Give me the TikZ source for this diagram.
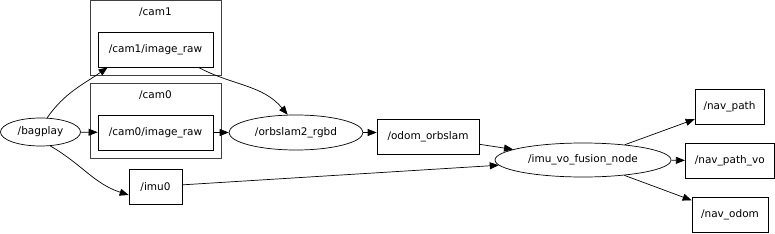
\documentclass[tikz,border=0pt]{standalone}
\usepackage{fontspec}
\setmainfont{DejaVu Sans}
\usetikzlibrary{arrows.meta,shapes.geometric}
\begin{document}
\begin{tikzpicture}[x=1pt,y=-1pt,
  every node/.style={font=\fontsize{10.5}{12}\selectfont, inner sep=0pt},
  topic/.style={draw=black, line width=0.7pt, rectangle},
  rosnode/.style={draw=black, line width=0.7pt, ellipse},
  cluster/.style={draw=black!75, line width=0.8pt, rectangle},
  arr/.style={draw=black, line width=0.7pt, -{Triangle[length=9pt,width=7pt]}}]
\useasboundingbox (0,0) rectangle (775,233);
% clusters
\node[cluster, minimum width=131pt, minimum height=74.5pt] (cam1cl) at (155.5,37.75) {};
\node (cam1lbl) at (155.5,12) {/cam1};
\node[cluster, minimum width=131pt, minimum height=75pt] (cam0cl) at (155.5,120.5) {};
\node (cam0lbl) at (155.5,95) {/cam0};
% topics
\node[topic, minimum width=115pt, minimum height=35pt] (cam1img) at (155.5,49.5) {/cam1/image\_raw};
\node[topic, minimum width=115pt, minimum height=35pt] (cam0img) at (155.5,132.5) {/cam0/image\_raw};
\node[topic, minimum width=53pt, minimum height=35pt] (imu0) at (155.5,186.5) {/imu0};
\node[topic, minimum width=102pt, minimum height=35pt] (odom) at (428,136.5) {/odom\_orbslam};
\node[topic, minimum width=69pt, minimum height=35pt] (navpath) at (729.5,106.5) {/nav\_path};
\node[topic, minimum width=89pt, minimum height=35pt] (navpathvo) at (729.75,160.5) {/nav\_path\_vo};
\node[topic, minimum width=76pt, minimum height=35pt] (navodom) at (730,214.5) {/nav\_odom};
% nodes
\node[rosnode, minimum width=80pt, minimum height=28pt] (bagplay) at (40.5,132) {/bagplay};
\node[rosnode, minimum width=134pt, minimum height=35pt] (orbslam) at (296,132.5) {/orbslam2\_rgbd};
\node[rosnode, minimum width=176pt, minimum height=34pt] (fusion) at (583,160) {/imu\_vo\_fusion\_node};
% edges
\draw[arr] (bagplay.65) to[out=55,in=215] ([xshift=10pt]cam1img.south west);
\draw[arr] (bagplay) -- (cam0img);
\draw[arr] (bagplay.-55) to[out=-30,in=162] ([yshift=-8.5pt]imu0.west);
\draw[arr] ([xshift=-15pt]cam1img.south east) to[out=-28,in=130] (orbslam.115);
\draw[arr] (cam0img) -- (orbslam);
\draw[arr] (orbslam) -- (odom.west |- orbslam.east);
\draw[arr] (odom) -- (fusion);
\draw[arr] (imu0) -- (fusion);
\draw[arr] (fusion) -- (navpath);
\draw[arr] (fusion) -- (navpathvo);
\draw[arr] (fusion) -- (navodom);
\end{tikzpicture}
\end{document}
